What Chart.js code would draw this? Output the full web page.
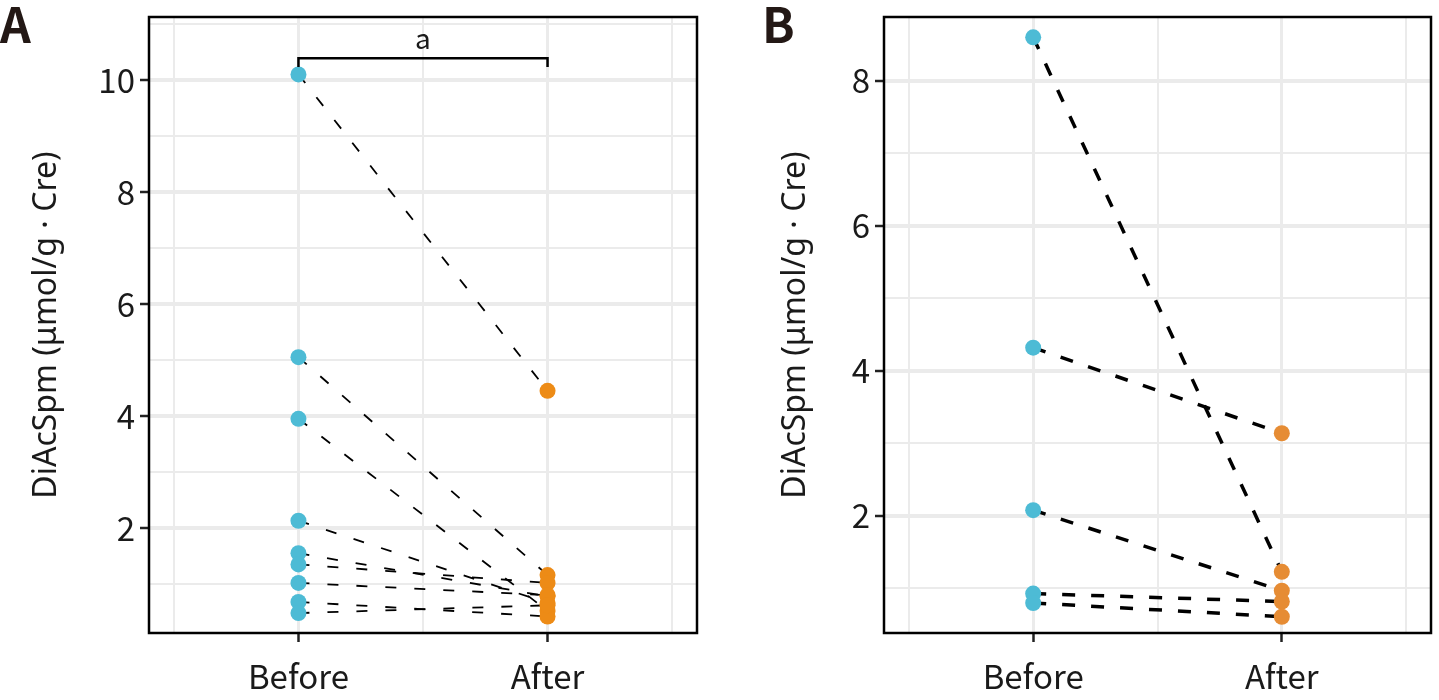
<!DOCTYPE html>
<html>
<head>
<meta charset="utf-8">
<script src="https://cdn.jsdelivr.net/npm/chart.js@4.4.0/dist/chart.umd.min.js"></script>
<style>
  body { margin: 0; background: #fff; width: 1439px; height: 700px; overflow: hidden; position: relative; }
  .panel { position: absolute; top: 0; height: 700px; }
  .tag { position: absolute; top: -2px; font: bold 48px/48px "Noto Sans CJK SC", sans-serif; color: #231815; }
</style>
</head>
<body>
<div class="panel" style="left:0;width:720px"><canvas id="chartA"></canvas></div>
<div class="panel" style="left:720px;width:719px"><canvas id="chartB"></canvas></div>
<div class="tag" style="left:0px">A</div>
<div class="tag" style="left:762px">B</div>
<script>
// categories sit at x = 1 and x = 2 on a linear axis
const categories = ['Before', 'After'];
const yTitle = 'DiAcSpm (\u03bcmol/g \u00b7 Cre)';

// panel A
const beforeA = [10.1, 5.05, 3.95, 2.13, 1.55, 1.35, 1.02, 0.68, 0.48];
const afterA = [4.45, 1.16, 0.52, 0.66, 0.78, 1.02, 0.8, 0.42, 0.62];
const yTicksA = [1, 2, 3, 4, 5, 6, 7, 8, 9, 10, 11];
const yLabelsA = [2, 4, 6, 8, 10];
const yRangeA = [0.125, 11.125];
const bracketA = { y: 10.39, drop: 0.16, label: 'a' };

// panel B
const beforeB = [8.6, 4.32, 2.08, 0.93, 0.8];
const afterB = [1.23, 3.14, 0.97, 0.82, 0.61];
const yTicksB = [1, 2, 3, 4, 5, 6, 7, 8];
const yLabelsB = [2, 4, 6, 8];
const yRangeB = [0.386, 8.88];

const xTicks = [0.5, 1, 1.5, 2, 2.5];
const FONT = '"Noto Sans CJK SC", sans-serif';
const TITLE_FONT = '"Noto Sans", sans-serif';
const TEXT = '#1a1a1a';
const GRID = '#ebebeb';

const framePlugin = {
    id: 'frame',
    afterDraw(chart) {
        const { ctx, chartArea: a } = chart;
        ctx.save();
        ctx.strokeStyle = '#000';
        ctx.lineWidth = 2.5;
        ctx.strokeRect(a.left, a.top, a.right - a.left, a.bottom - a.top);
        ctx.restore();
    }
};

const bracketPlugin = {
    id: 'bracket',
    afterDatasetsDraw(chart, args, opts) {
        if (!opts || !opts.label) return;
        const { ctx, scales: { x, y } } = chart;
        const x1 = x.getPixelForValue(1), x2 = x.getPixelForValue(2);
        const yl = y.getPixelForValue(opts.y), yd = y.getPixelForValue(opts.y - opts.drop);
        ctx.save();
        ctx.strokeStyle = '#000';
        ctx.lineWidth = 2.5;
        ctx.beginPath();
        ctx.moveTo(x1, yd); ctx.lineTo(x1, yl); ctx.lineTo(x2, yl); ctx.lineTo(x2, yd);
        ctx.stroke();
        ctx.fillStyle = TEXT;
        ctx.font = '28px ' + FONT;
        ctx.textAlign = 'center';
        ctx.textBaseline = 'bottom';
        ctx.fillText(opts.label, (x1 + x2) / 2, yl - 6);
        ctx.restore();
    }
};

function createPanel(id, before, after, cfg) {
    const ctx = document.getElementById(id).getContext('2d');

    // dashed connectors first, dots drawn above them
    const pairs = before.map((b, i) => ({
        data: [{ x: 1, y: b }, { x: 2, y: after[i] }],
        showLine: true,
        borderColor: '#000',
        borderWidth: cfg.lineWidth,
        borderDash: cfg.dash,
        pointRadius: 0,
        order: 2
    }));
    const dots = [
        { data: before.map(v => ({ x: 1, y: v })), backgroundColor: '#4DBBD5' },
        { data: after.map(v => ({ x: 2, y: v })), backgroundColor: cfg.orange }
    ].map(d => Object.assign(d, { pointRadius: 8, borderWidth: 0, order: 0 }));

    const isMajorX = v => v === 1 || v === 2;

    return new Chart(ctx, {
        type: 'scatter',
        data: { datasets: dots.concat(pairs) },
        plugins: [framePlugin, bracketPlugin],
        options: {
            responsive: true,
            maintainAspectRatio: false,
            animation: false,
            layout: { padding: { top: 17, right: cfg.padRight, left: 0, bottom: 0 } },
            plugins: {
                legend: { display: false },
                tooltip: { enabled: false },
                bracket: cfg.bracket || {}
            },
            scales: {
                x: {
                    type: 'linear',
                    min: 0.4,
                    max: 2.6,
                    afterBuildTicks: s => { s.ticks = xTicks.map(v => ({ value: v })); },
                    afterFit: s => { s.height = 67; s.paddingLeft = 0; s.paddingRight = 0; },
                    border: { display: false },
                    grid: {
                        color: GRID,
                        lineWidth: c => isMajorX(c.tick.value) ? 3 : 2,
                        tickColor: c => isMajorX(c.tick.value) ? '#222' : 'rgba(0,0,0,0)',
                        tickWidth: 2.5,
                        tickLength: 9
                    },
                    ticks: {
                        autoSkip: false,
                        maxRotation: 0,
                        padding: 15,
                        color: TEXT,
                        font: { family: FONT, size: 33 },
                        callback: v => isMajorX(v) ? categories[v - 1] : ''
                    }
                },
                y: {
                    type: 'linear',
                    min: cfg.yRange[0],
                    max: cfg.yRange[1],
                    afterBuildTicks: s => { s.ticks = cfg.yTicks.map(v => ({ value: v })); },
                    afterFit: s => { s.width = cfg.axisWidth; s.paddingTop = 0; s.paddingBottom = 0; },
                    border: { display: false },
                    grid: {
                        color: GRID,
                        lineWidth: c => cfg.yLabels.includes(c.tick.value) ? 4 : 2,
                        tickColor: c => cfg.yLabels.includes(c.tick.value) ? '#222' : 'rgba(0,0,0,0)',
                        tickWidth: 2.5,
                        tickLength: 9
                    },
                    ticks: {
                        autoSkip: false,
                        padding: 5,
                        color: TEXT,
                        font: { family: FONT, size: 33 },
                        callback: v => cfg.yLabels.includes(v) ? String(v) : ''
                    },
                    title: {
                        display: true,
                        text: yTitle,
                        color: TEXT,
                        font: { family: TITLE_FONT, size: 32 },
                        padding: { top: cfg.titlePad, bottom: 0 }
                    }
                }
            }
        }
    });
}

createPanel('chartA', beforeA, afterA, {
    yTicks: yTicksA, yLabels: yLabelsA, yRange: yRangeA,
    axisWidth: 149, padRight: 23, titlePad: 28,
    lineWidth: 1.8, dash: [11, 18], orange: '#ED8B16',
    bracket: bracketA
});

createPanel('chartB', beforeB, afterB, {
    yTicks: yTicksB, yLabels: yLabelsB, yRange: yRangeB,
    axisWidth: 164, padRight: 8, titlePad: 57,
    lineWidth: 3.5, dash: [13, 16], orange: '#E68C34'
});
</script>
</body>
</html>
